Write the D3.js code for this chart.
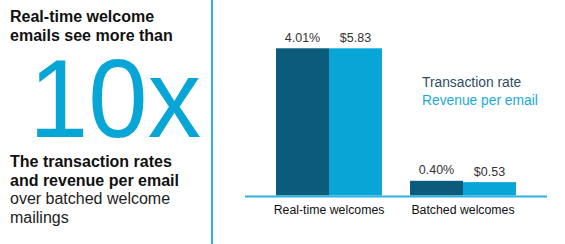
<!DOCTYPE html>
<html lang="en">
<head>
  <meta charset="UTF-8" />
  <title>Real-time welcome emails</title>
  <script src="https://d3js.org/d3.v7.min.js"></script>
  <style>
    html, body {
      margin: 0;
      padding: 0;
      background: #fff;
      overflow: hidden;
      font-family: "Liberation Sans", Arial, sans-serif;
    }
  </style>
</head>
<body>
  <div id="chart"></div>
  <script>
    // ---- data ----
    const categories = ["Real-time welcomes", "Batched welcomes"];
    const seriesNames = ["Transaction rate", "Revenue per email"];
    const transactionRate = [4.01, 0.40];   // percent
    const revenuePerEmail = [5.83, 0.53];   // dollars
    const rateLabels = ["4.01%", "0.40%"];
    const revenueLabels = ["$5.83", "$0.53"];

    const colors = ["#0b5b7c", "#08a6d6"];
    const legendColors = ["#2d4e63", "#1aa9d9"];

    const width = 565, height = 244;

    const svg = d3.select("#chart")
      .append("svg")
      .attr("width", width)
      .attr("height", height);

    // ---- left panel text ----
    const left = svg.append("g").attr("fill", "#111");

    const headLines = [
      { t: "Real-time welcome", y: 22, bold: true },
      { t: "emails see more than", y: 41, bold: true },
      { t: "The transaction rates", y: 167, bold: true },
      { t: "and revenue per email", y: 185.5, bold: true },
      { t: "over batched welcome", y: 204, bold: false },
      { t: "mailings", y: 223, bold: false }
    ];

    left.selectAll("text.line")
      .data(headLines)
      .enter()
      .append("text")
      .attr("class", "line")
      .attr("x", 10)
      .attr("y", d => d.y)
      .attr("font-size", 16)
      .attr("font-weight", d => d.bold ? "bold" : "normal")
      .attr("fill", d => d.bold ? "#111" : "#222")
      .text(d => d.t);

    // big "10x"
    left.append("text")
      .attr("x", 29).attr("y", 137)
      .attr("font-size", 112)
      .attr("fill", "#08a6d6")
      .attr("textLength", 172)
      .attr("lengthAdjust", "spacingAndGlyphs")
      .text("10x");

    // divider
    svg.append("line")
      .attr("x1", 212).attr("x2", 212)
      .attr("y1", 0).attr("y2", height)
      .attr("stroke", "#2db3e0")
      .attr("stroke-width", 2);

    // ---- bar chart ----
    const baseline = 195.5;
    const x0 = d3.scaleBand()
      .domain(categories)
      .range([245, 547])
      .paddingInner(0.209)
      .paddingOuter(0.2315);

    const x1 = d3.scaleBand()
      .domain(seriesNames)
      .range([0, x0.bandwidth()]);

    // each series scaled to its own maximum, as in the original graphic
    const yRate = d3.scaleLinear().domain([0, d3.max(transactionRate)]).range([baseline, 48.3]);
    const yRev = d3.scaleLinear().domain([0, d3.max(revenuePerEmail)]).range([baseline, 48.3]);

    const rows = categories.map((c, i) => ({
      cat: c,
      values: [
        { s: seriesNames[0], v: transactionRate[i], y: yRate(transactionRate[i]), label: rateLabels[i] },
        { s: seriesNames[1], v: revenuePerEmail[i], y: yRev(revenuePerEmail[i]), label: revenueLabels[i] }
      ]
    }));

    const groups = svg.selectAll("g.group")
      .data(rows)
      .enter()
      .append("g")
      .attr("class", "group")
      .attr("transform", d => `translate(${x0(d.cat)},0)`);

    groups.selectAll("rect")
      .data(d => d.values)
      .enter()
      .append("rect")
      .attr("x", d => x1(d.s))
      .attr("y", d => d.y)
      .attr("width", x1.bandwidth())
      .attr("height", d => baseline - d.y)
      .attr("fill", (d, i) => colors[i]);

    groups.selectAll("text.value")
      .data(d => d.values)
      .enter()
      .append("text")
      .attr("class", "value")
      .attr("x", d => x1(d.s) + x1.bandwidth() / 2)
      .attr("y", d => d.y - 6.5)
      .attr("text-anchor", "middle")
      .attr("font-size", 12.5)
      .attr("fill", "#333")
      .text(d => d.label);

    // axis line + category labels
    const xAxis = d3.axisBottom(x0).tickSize(0).tickPadding(9);
    const axisG = svg.append("g")
      .attr("transform", `translate(0,${baseline + 1})`)
      .call(xAxis);
    axisG.select(".domain").remove();
    axisG.selectAll("text")
      .attr("font-size", 12.3)
      .attr("font-family", "Liberation Sans, Arial, sans-serif")
      .attr("fill", "#111");
    axisG.append("line")
      .attr("x1", 245).attr("x2", 547)
      .attr("y1", 0).attr("y2", 0)
      .attr("stroke", "#2db3e0")
      .attr("stroke-width", 2);

    // legend
    svg.selectAll("text.legend")
      .data(seriesNames)
      .enter()
      .append("text")
      .attr("class", "legend")
      .attr("x", 422)
      .attr("y", (d, i) => 87 + i * 18)
      .attr("font-size", 13.8)
      .attr("fill", (d, i) => legendColors[i])
      .text(d => d);
  </script>
</body>
</html>
